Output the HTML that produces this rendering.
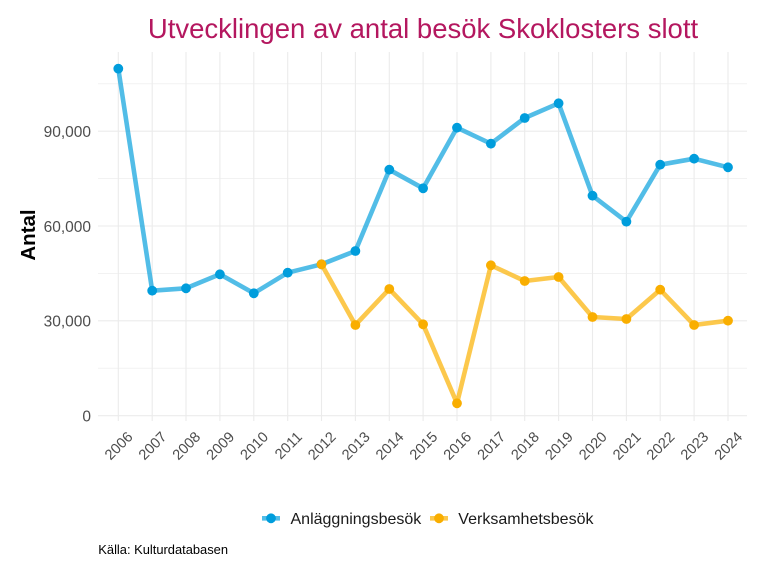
<!DOCTYPE html>
<html><head><meta charset="utf-8"><style>
html,body{margin:0;padding:0;background:#fff;}
svg{display:block;}
</style></head><body>
<svg width="768" height="576" viewBox="0 0 768 576" xmlns="http://www.w3.org/2000/svg" font-family="'Liberation Sans', Arial, sans-serif">
<rect width="768" height="576" fill="#fff"/>
<!-- minor horizontal grid -->
<g stroke="#EBEBEB" stroke-width="0.6">
<line x1="98" y1="368.2" x2="747" y2="368.2"/>
<line x1="98" y1="273.4" x2="747" y2="273.4"/>
<line x1="98" y1="178.6" x2="747" y2="178.6"/>
<line x1="98" y1="83.8" x2="747" y2="83.8"/>
</g>
<!-- major horizontal grid -->
<g stroke="#EBEBEB" stroke-width="1.1">
<line x1="98" y1="415.7" x2="747" y2="415.7"/>
<line x1="98" y1="320.8" x2="747" y2="320.8"/>
<line x1="98" y1="226" x2="747" y2="226"/>
<line x1="98" y1="131.2" x2="747" y2="131.2"/>
</g>
<!-- vertical grid -->
<g stroke="#EBEBEB" stroke-width="1.1">
<line x1="118.3" y1="52" x2="118.3" y2="421"/>
<line x1="152.2" y1="52" x2="152.2" y2="421"/>
<line x1="186.0" y1="52" x2="186.0" y2="421"/>
<line x1="219.9" y1="52" x2="219.9" y2="421"/>
<line x1="253.8" y1="52" x2="253.8" y2="421"/>
<line x1="287.7" y1="52" x2="287.7" y2="421"/>
<line x1="321.5" y1="52" x2="321.5" y2="421"/>
<line x1="355.4" y1="52" x2="355.4" y2="421"/>
<line x1="389.3" y1="52" x2="389.3" y2="421"/>
<line x1="423.1" y1="52" x2="423.1" y2="421"/>
<line x1="457.0" y1="52" x2="457.0" y2="421"/>
<line x1="490.9" y1="52" x2="490.9" y2="421"/>
<line x1="524.7" y1="52" x2="524.7" y2="421"/>
<line x1="558.6" y1="52" x2="558.6" y2="421"/>
<line x1="592.5" y1="52" x2="592.5" y2="421"/>
<line x1="626.4" y1="52" x2="626.4" y2="421"/>
<line x1="660.2" y1="52" x2="660.2" y2="421"/>
<line x1="694.1" y1="52" x2="694.1" y2="421"/>
<line x1="728.0" y1="52" x2="728.0" y2="421"/>
</g>

<!-- title -->
<text x="423" y="38" text-anchor="middle" font-size="27.5" fill="#B4175F">Utvecklingen av antal besök Skoklosters slott</text>

<!-- y axis labels -->
<g font-size="15.5" fill="#4D4D4D" text-anchor="end">
<text x="91" y="421.5">0</text>
<text x="91" y="326.6">30,000</text>
<text x="91" y="231.8">60,000</text>
<text x="91" y="137">90,000</text>
</g>
<text transform="translate(35,235) rotate(-90)" text-anchor="middle" font-size="20.5" font-weight="bold" fill="#000">Antal</text>

<!-- x axis labels -->
<g font-size="14.6" fill="#4D4D4D" text-anchor="end">
<text transform="translate(133.6,437.8) rotate(-45)">2006</text>
<text transform="translate(167.5,437.8) rotate(-45)">2007</text>
<text transform="translate(201.3,437.8) rotate(-45)">2008</text>
<text transform="translate(235.2,437.8) rotate(-45)">2009</text>
<text transform="translate(269.1,437.8) rotate(-45)">2010</text>
<text transform="translate(303.0,437.8) rotate(-45)">2011</text>
<text transform="translate(336.8,437.8) rotate(-45)">2012</text>
<text transform="translate(370.7,437.8) rotate(-45)">2013</text>
<text transform="translate(404.6,437.8) rotate(-45)">2014</text>
<text transform="translate(438.4,437.8) rotate(-45)">2015</text>
<text transform="translate(472.3,437.8) rotate(-45)">2016</text>
<text transform="translate(506.2,437.8) rotate(-45)">2017</text>
<text transform="translate(540.0,437.8) rotate(-45)">2018</text>
<text transform="translate(573.9,437.8) rotate(-45)">2019</text>
<text transform="translate(607.8,437.8) rotate(-45)">2020</text>
<text transform="translate(641.7,437.8) rotate(-45)">2021</text>
<text transform="translate(675.5,437.8) rotate(-45)">2022</text>
<text transform="translate(709.4,437.8) rotate(-45)">2023</text>
<text transform="translate(743.3,437.8) rotate(-45)">2024</text>
</g>

<!-- blue series -->
<polyline fill="none" stroke="#009DDC" stroke-opacity="0.68" stroke-width="4.6" stroke-linejoin="round" points="118.3,68.7 152.2,290.7 186.0,288.3 219.9,274.3 253.8,293.3 287.7,272.7 321.5,264.3 355.4,251 389.3,169.7 423.1,188.3 457.0,127.7 490.9,143.7 524.7,118 558.6,103.3 592.5,195.7 626.4,221.7 660.2,164.7 694.1,158.7 728.0,167.3"/>
<g fill="#009DDC">
<circle cx="118.3" cy="68.7" r="4.9"/>
<circle cx="152.2" cy="290.7" r="4.9"/>
<circle cx="186.0" cy="288.3" r="4.9"/>
<circle cx="219.9" cy="274.3" r="4.9"/>
<circle cx="253.8" cy="293.3" r="4.9"/>
<circle cx="287.7" cy="272.7" r="4.9"/>
<circle cx="321.5" cy="264.3" r="4.9"/>
<circle cx="355.4" cy="251" r="4.9"/>
<circle cx="389.3" cy="169.7" r="4.9"/>
<circle cx="423.1" cy="188.3" r="4.9"/>
<circle cx="457.0" cy="127.7" r="4.9"/>
<circle cx="490.9" cy="143.7" r="4.9"/>
<circle cx="524.7" cy="118" r="4.9"/>
<circle cx="558.6" cy="103.3" r="4.9"/>
<circle cx="592.5" cy="195.7" r="4.9"/>
<circle cx="626.4" cy="221.7" r="4.9"/>
<circle cx="660.2" cy="164.7" r="4.9"/>
<circle cx="694.1" cy="158.7" r="4.9"/>
<circle cx="728.0" cy="167.3" r="4.9"/>
</g>

<!-- orange series -->
<polyline fill="none" stroke="#FBB000" stroke-opacity="0.7" stroke-width="4.6" stroke-linejoin="round" points="321.5,264.3 355.4,325 389.3,289 423.1,324.3 457.0,403.3 490.9,265.3 524.7,281 558.6,277 592.5,317 626.4,319 660.2,289.7 694.1,325 728.0,320.7"/>
<g fill="#F9AE00">
<circle cx="321.5" cy="264.3" r="4.9"/>
<circle cx="355.4" cy="325" r="4.9"/>
<circle cx="389.3" cy="289" r="4.9"/>
<circle cx="423.1" cy="324.3" r="4.9"/>
<circle cx="457.0" cy="403.3" r="4.9"/>
<circle cx="490.9" cy="265.3" r="4.9"/>
<circle cx="524.7" cy="281" r="4.9"/>
<circle cx="558.6" cy="277" r="4.9"/>
<circle cx="592.5" cy="317" r="4.9"/>
<circle cx="626.4" cy="319" r="4.9"/>
<circle cx="660.2" cy="289.7" r="4.9"/>
<circle cx="694.1" cy="325" r="4.9"/>
<circle cx="728.0" cy="320.7" r="4.9"/>
</g>

<!-- legend -->
<line x1="262" y1="518.3" x2="280" y2="518.3" stroke="#009DDC" stroke-opacity="0.68" stroke-width="4.6"/>
<circle cx="271" cy="518.3" r="4.9" fill="#009DDC"/>
<text x="290.5" y="524" font-size="16" fill="#1A1A1A">Anläggningsbesök</text>
<line x1="430" y1="518.3" x2="448" y2="518.3" stroke="#FBB000" stroke-opacity="0.7" stroke-width="4.6"/>
<circle cx="439" cy="518.3" r="4.9" fill="#F9AE00"/>
<text x="458.3" y="524" font-size="16" fill="#1A1A1A">Verksamhetsbesök</text>

<!-- caption -->
<text x="98.3" y="554" font-size="12.9" fill="#000">Källa: Kulturdatabasen</text>
</svg>
</body></html>
